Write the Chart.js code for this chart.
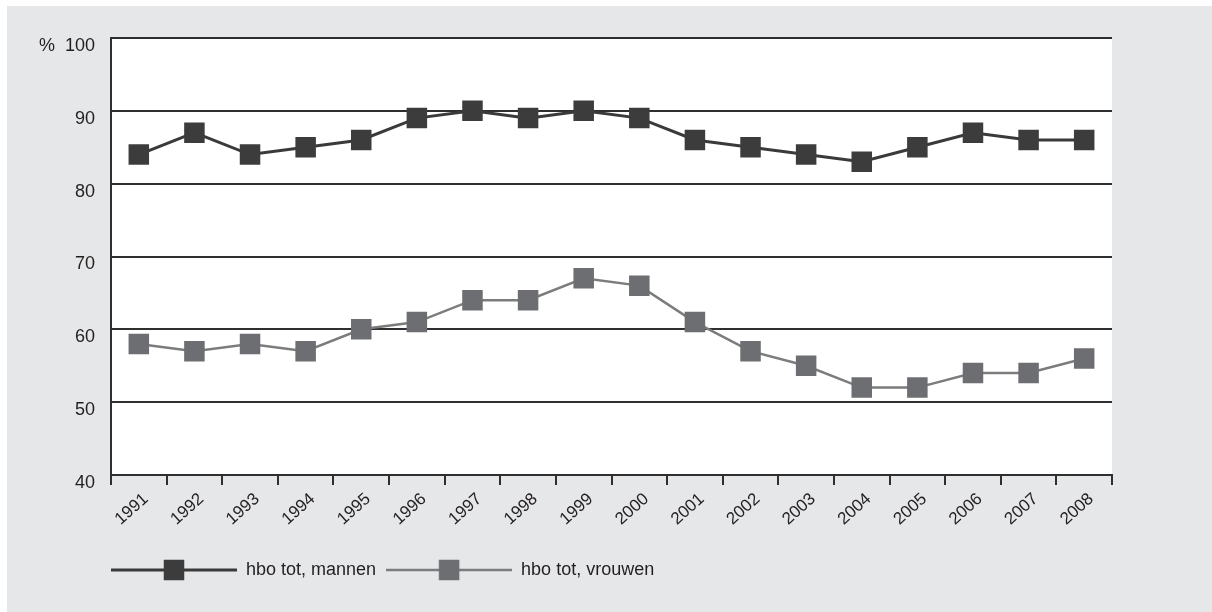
<!DOCTYPE html>
<html>
<head>
<meta charset="utf-8">
<script src="https://cdn.jsdelivr.net/npm/chart.js@4.4.1/dist/chart.umd.min.js"></script>
<style>
  html, body { margin: 0; padding: 0; background: #ffffff; }
  canvas { display: block; }
</style>
</head>
<body>
<canvas id="c" width="1212" height="612"></canvas>
<script>
// ---- data ----
const years = ['1991','1992','1993','1994','1995','1996','1997','1998','1999','2000','2001','2002','2003','2004','2005','2006','2007','2008'];
const mannen = [84, 87, 84, 85, 86, 89, 90, 89, 90, 89, 86, 85, 84, 83, 85, 87, 86, 86];
const vrouwen = [58, 57, 58, 57, 60, 61, 64, 64, 67, 66, 61, 57, 55, 52, 52, 54, 54, 56];
const seriesNames = ['hbo tot, mannen', 'hbo tot, vrouwen'];
const yMin = 40, yMax = 100, yStep = 10;
const yUnit = '%';

// ---- styles ----
const FONT = "'Liberation Sans Narrow', 'Arial Narrow', 'Liberation Sans', Arial, sans-serif";
const TEXT = '#231f20';
const GRID = '#2f2f2f';
const styles = [
  { line: '#3a3a3a', marker: '#3c3c3c', width: 3 },
  { line: '#7c7c7d', marker: '#6d6e71', width: 2.5 }
];

function legendSymbol(st) {
  const c = document.createElement('canvas');
  c.width = 126; c.height = 22;
  const g = c.getContext('2d');
  g.strokeStyle = st.line;
  g.lineWidth = st.width;
  g.beginPath(); g.moveTo(0, 11); g.lineTo(126, 11); g.stroke();
  g.fillStyle = st.marker;
  g.fillRect(63 - 10.25, 11 - 10.25, 20.5, 20.5);
  return c;
}
const symbols = styles.map(legendSymbol);

const bgPlugin = {
  id: 'bg',
  afterLayout(chart) {
    // legend starts under the plot's left edge
    if (chart.legend) chart.legend.left = chart.chartArea.left - chart.legend.options.labels.padding;
  },
  beforeDraw(chart) {
    const ctx = chart.ctx, a = chart.chartArea;
    ctx.save();
    ctx.fillStyle = '#ffffff';
    ctx.fillRect(0, 0, chart.width, chart.height);
    ctx.fillStyle = '#e6e7e8';
    ctx.fillRect(7, 6, chart.width - 7, chart.height - 6);
    ctx.fillStyle = '#ffffff';
    ctx.fillRect(a.left, a.top, a.right - a.left, a.bottom - a.top);
    ctx.restore();
  }
};

const datasets = [mannen, vrouwen].map((d, i) => ({
  label: seriesNames[i],
  data: d,
  borderColor: styles[i].line,
  backgroundColor: styles[i].marker,
  borderWidth: styles[i].width,
  pointStyle: 'rect',
  pointRadius: 14.5,
  pointHoverRadius: 14.5,
  pointBackgroundColor: styles[i].marker,
  pointBorderWidth: 0,
  tension: 0,
  fill: false
}));

new Chart(document.getElementById('c'), {
  type: 'line',
  data: { labels: years, datasets },
  plugins: [bgPlugin],
  options: {
    responsive: false,
    devicePixelRatio: 1,
    animation: false,
    layout: { padding: { left: 0, right: 100, top: 38, bottom: 23 } },
    scales: {
      x: {
        type: 'category',
        offset: true,
        grid: {
          display: true,
          offset: true,
          drawOnChartArea: false,
          drawTicks: true,
          tickLength: 10,
          color: GRID,
          lineWidth: 2
        },
        border: { display: true, color: GRID, width: 2 },
        ticks: {
          autoSkip: false,
          minRotation: 42,
          maxRotation: 42,
          padding: 4,
          labelOffset: 7,
          color: TEXT,
          font: { family: FONT, size: 17 }
        },
        afterFit(scale) { scale.height = 76; }
      },
      y: {
        min: yMin,
        max: yMax,
        grid: {
          display: true,
          drawTicks: false,
          color: GRID,
          lineWidth: 2
        },
        border: { display: true, color: GRID, width: 2 },
        ticks: {
          stepSize: yStep,
          padding: 16,
          labelOffset: 8,
          color: TEXT,
          font: { family: FONT, size: 18 },
          callback(v) { return v === yMax ? yUnit + '  ' + v : String(v); }
        },
        afterFit(scale) { scale.width = 111; }
      }
    },
    plugins: {
      tooltip: { enabled: false },
      legend: {
        display: true,
        position: 'bottom',
        align: 'start',
        labels: {
          usePointStyle: true,
          pointStyleWidth: 126,
          padding: 10,
          color: TEXT,
          font: { family: FONT, size: 18 },
          generateLabels(chart) {
            const items = Chart.defaults.plugins.legend.labels.generateLabels(chart);
            return items.map((it, i) => Object.assign(it, { pointStyle: symbols[i], fontColor: TEXT }));
          }
        }
      }
    }
  }
});
</script>
</body>
</html>
